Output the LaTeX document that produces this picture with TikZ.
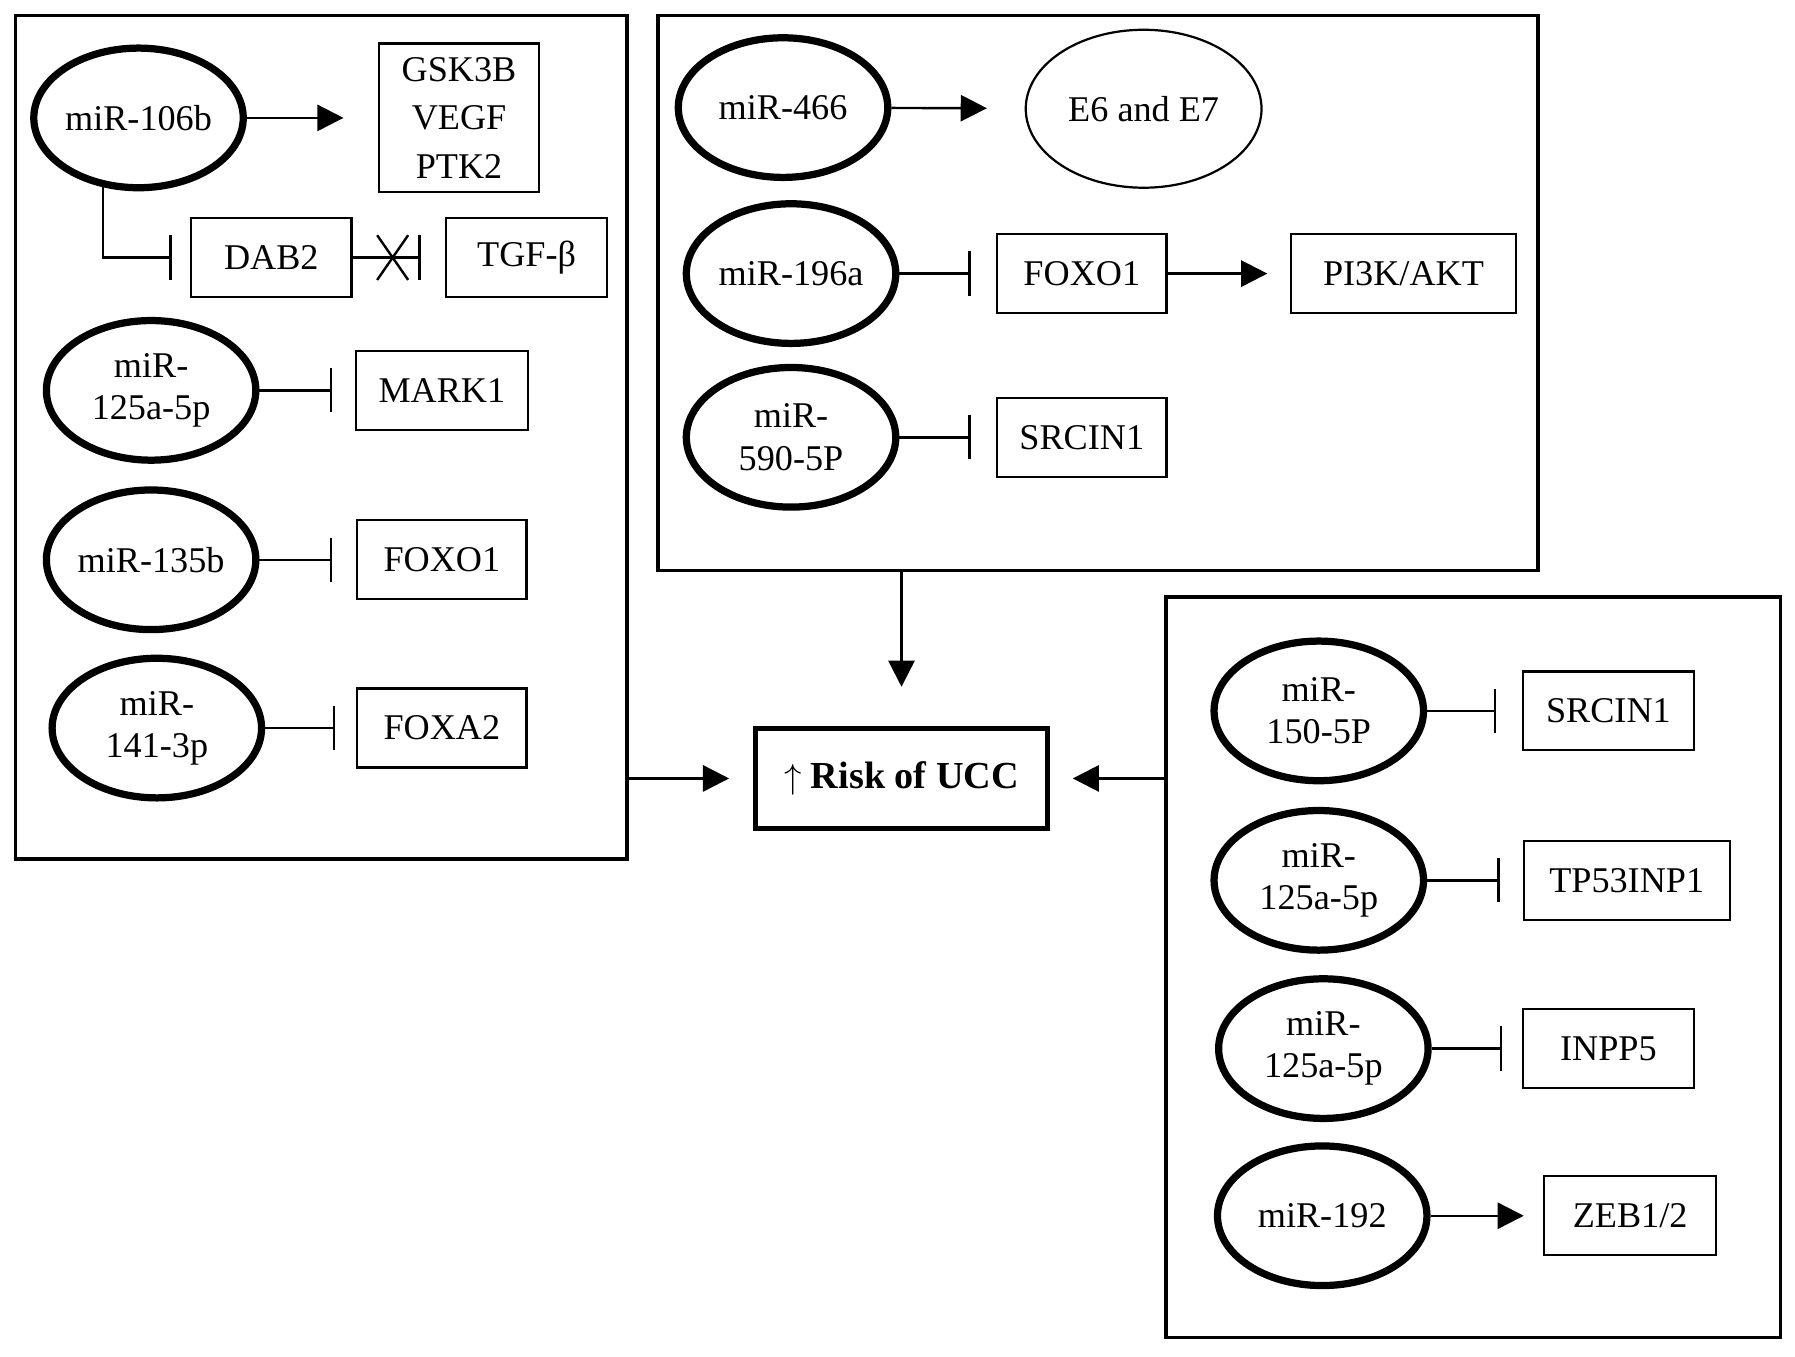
\documentclass[tikz,border=0pt]{standalone}
\usepackage{fontspec}
\setmainfont{Liberation Serif}
\usetikzlibrary{arrows.meta}
\usetikzlibrary{shapes.geometric}
\usetikzlibrary{shapes.misc}
\begin{document}
\begin{tikzpicture}
[x=0.02cm,y=-0.02cm,line width=1.2pt,>={Triangle[length=13pt,width=13pt]},%
  mir/.style={draw,ellipse,line width=3.6pt,minimum width=3.66cm,minimum height=2.44cm,
    inner sep=0pt,align=center,font=\fontsize{18}{21}\selectfont},
  gene/.style={draw,rectangle,line width=1.1pt,minimum height=1.38cm,inner sep=0pt,
    align=center,font=\fontsize{18}{24}\selectfont},
  group/.style={draw,rectangle,line width=1.8pt,inner sep=0pt},
  inhib/.style={-{Bar[width=22pt]}}]
\useasboundingbox (0,0) rectangle (1568,1185);
%% groups and outcome
\node[group,minimum width=10.68cm,minimum height=14.74cm] (left) at (280.5,382) {};
\node[group,minimum width=15.38cm,minimum height=9.7cm] (top) at (959,256) {};
\node[group,minimum width=10.74cm,minimum height=12.94cm] (right) at (1287,845) {};
\node[draw,line width=2.4pt,minimum width=5.1cm,minimum height=1.76cm,
  font=\fontsize{19}{24}\selectfont\bfseries] (risk) at (787.5,680) {$\uparrow$ Risk of UCC};
%% left group
\node[mir] (m106) at (121,103) {miR-106b};
\node[gene,minimum width=2.8cm,minimum height=2.6cm] (gsk) at (401,103) {GSK3B\\VEGF\\PTK2};
\node[gene,minimum width=2.8cm] (dab) at (237,225) {DAB2};
\node[gene,minimum width=2.82cm] (tgf) at (460,225) {TGF-β};
\node[draw,cross out,line width=1.2pt,minimum width=0.5cm,minimum height=0.74cm,inner sep=0pt] (cut) at (343,225) {};
\node[mir] (m125a) at (132,341) {miR-\\125a-5p};
\node[gene,minimum width=3cm] (mark) at (386,341) {MARK1};
\node[mir] (m135) at (132,489) {miR-135b};
\node[gene,minimum width=2.96cm] (foxoa) at (386,489) {FOXO1};
\node[mir] (m141) at (137,636) {miR-\\141-3p};
\node[gene,minimum width=2.96cm] (foxa) at (386,636) {FOXA2};
%% top group
\node[mir] (m466) at (684,94) {miR-466};
\node[draw,ellipse,line width=1.1pt,minimum width=4.12cm,minimum height=2.76cm,
  font=\fontsize{18}{24}\selectfont] (e67) at (999,95) {E6 and E7};
\node[mir] (m196) at (691,239) {miR-196a};
\node[gene,minimum width=2.96cm] (foxob) at (945,239) {FOXO1};
\node[gene,minimum width=3.92cm] (pik) at (1226,239) {PI3K/AKT};
\node[mir] (m590) at (691,382) {miR-\\590-5P};
\node[gene,minimum width=2.96cm] (srca) at (945,382) {SRCIN1};
%% right group
\node[mir] (m150) at (1152,621) {miR-\\150-5P};
\node[gene,minimum width=2.98cm] (srcb) at (1405,621) {SRCIN1};
\node[mir] (m125b) at (1152,769) {miR-\\125a-5p};
\node[gene,minimum width=3.6cm] (tp53) at (1421,769) {TP53INP1};
\node[mir] (m125c) at (1156,916) {miR-\\125a-5p};
\node[gene,minimum width=2.98cm] (inpp) at (1405,916) {INPP5};
\node[mir] (m192) at (1155,1062) {miR-192};
\node[gene,minimum width=3cm] (zeb) at (1424,1062) {ZEB1/2};
%% activation
\path[->]
(m106) edge[shorten >=0.6cm] (gsk)
(m466) edge[shorten >=0.66cm] (e67)
(foxob) edge[shorten >=0.4cm] (pik)
(m192) edge[shorten >=0.34cm] (zeb);
%% inhibition
\draw[inhib,shorten >=0.32cm] (m106.243) |- (dab.west);
\path[inhib]
(dab) edge[shorten >=0.42cm] (tgf)
(m125a) edge[shorten >=0.4cm] (mark)
(m135) edge[shorten >=0.42cm] (foxoa)
(m141) edge[shorten >=0.36cm] (foxa)
(m196) edge[shorten >=0.44cm] (foxob)
(m590) edge[shorten >=0.44cm] (srca)
(m150) edge[shorten >=0.45cm] (srcb)
(m125b) edge[shorten >=0.4cm] (tp53)
(m125c) edge[shorten >=0.35cm] (inpp);
%% into the outcome
\draw[->,shorten >=0.42cm] (left.east |- risk.west) -- (risk.west);
\draw[->,shorten >=0.68cm] (risk.north |- top.south) -- (risk.north);
\draw[->,shorten >=0.4cm] (right.west |- risk.east) -- (risk.east);
\end{tikzpicture}
\end{document}
